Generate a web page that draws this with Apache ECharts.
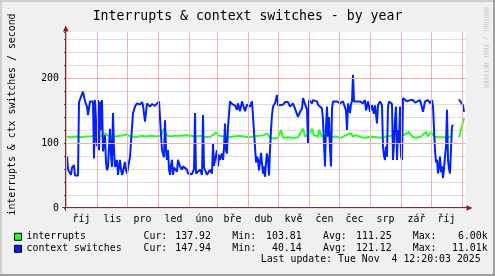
<!DOCTYPE html>
<html>
<head>
<meta charset="utf-8">
<script src="https://cdn.jsdelivr.net/npm/echarts@6/dist/echarts.min.js"></script>
<style>
html,body{margin:0;padding:0;background:#f0f0f0;}
#c{width:495px;height:276px;}
</style>
</head>
<body>
<div id="c"></div>
<script>
// ---- data ----
const titleText = 'Interrupts & context switches - by year';
const yAxisName = 'interrupts & ctx switches / second';
const monthLabels = ['říj','lis','pro','led','úno','bře','dub','kvě','čen','čec','srp','zář','říj'];
const monthStarts = ['2024-10-01','2024-11-01','2024-12-01','2025-01-01','2025-02-01','2025-03-01','2025-04-01','2025-05-01','2025-06-01','2025-07-01','2025-08-01','2025-09-01','2025-10-01','2025-11-01'];
const yTickLabels = [0, 100, 200];

// [day offset from graph start (Sep 30 2024), value]; null = no data
const contextSwitches = [
  [0,63],[1,79],[2,60],[3,56],[5,51],[6,62],[8,66],[9,50],[10,48],[12,50],
  [13,163],[15,166],[17,179],[19,164],[21,156],[22,143],[24,164],[26,167],[27,164],[28,76],
  [29,166],[30,110],[31,95],[32,166],[33,89],[34,164],[35,120],[36,166],[37,87],[38,100],
  [39,112],[40,70],[41,58],[42,63],[43,95],[44,122],[45,80],[46,63],[47,146],[48,90],
  [49,63],[51,74],[52,51],[54,74],[55,60],[56,51],[57,56],[59,71],[60,58],[61,53],
  [62,56],[64,79],[66,81],
  [67,146],[69,156],[71,161],[72,158],[74,159],[76,163],[77,158],[79,133],[81,161],[83,163],
  [84,156],[86,160],[87,163],[89,157],[91,158],[93,164],[94,161],
  [96,89],[97,92],[98,78],[99,135],[100,90],[101,74],[102,89],[103,60],[104,51],[105,66],
  [106,74],[107,51],[108,62],[109,59],[111,56],[112,74],[114,64],[116,59],[117,64],[119,62],
  [121,59],[122,53],[124,56],[126,52],[127,51],[128,60],[129,146],[130,53],[132,56],[134,59],
  [136,51],[137,143],[138,62],[139,59],[141,51],[142,48],[144,59],[146,53],[147,99],[148,65],
  [149,74],[151,89],[152,64],[153,82],[154,74],[156,84],[157,74],[158,92],[159,130],[160,88],
  [161,84],[162,125],
  [164,164],[166,160],[167,161],[169,158],[171,151],[172,161],[174,149],[176,164],[177,161],[179,149],
  [181,159],[182,161],[184,156],[186,164],[187,166],
  [189,94],[190,70],[191,79],[192,74],[193,58],[194,59],[195,85],[196,87],[197,53],[198,64],
  [199,48],[200,70],[201,84],[202,74],[203,50],[204,89],[205,120],
  [206,143],[207,156],[209,161],[211,174],[212,158],[214,161],[217,159],[219,163],[221,161],[222,163],
  [224,156],[226,159],[227,161],[229,153],[231,151],[232,140],[234,148],[236,153],[237,169],[239,166],
  [241,151],[242,99],[243,166],[246,161],[247,166],[249,163],[251,164],[252,159],[254,161],[256,153],
  [257,135],[258,100],[259,64],[260,125],[261,156],[262,110],[263,140],[264,90],[265,64],[266,153],
  [267,164],[269,162],[271,164],[274,161],[277,164],[279,166],[280,150],[281,120],[282,161],[284,146],
  [285,160],[286,164],[287,205],[288,164],[291,164],[294,164],[297,161],[299,166],[300,150],[301,156],
  [302,164],[304,148],[306,158],[307,161],[308,145],[309,158],[311,130],[312,158],[314,164],[316,158],
  [317,94],[318,80],[319,74],[320,95],[321,79],[322,156],[323,164],[325,166],[326,160],[327,74],
  [328,100],[329,135],[330,156],[331,74],[332,120],[333,100],[334,156],[335,80],[336,74],
  [337,169],[339,166],[341,164],[344,166],[347,166],[349,162],[351,164],[354,166],[356,164],[357,148],
  [359,164],[361,161],[362,166],[364,161],[366,166],[367,156],
  [369,89],[370,70],[371,74],[372,53],[373,65],[374,79],[375,55],[376,64],[377,46],[378,60],
  [379,79],[380,95],[381,151],[382,74],[383,60],[384,53],[385,90],[386,125],[387,128],
  [390,null],
  [393,167],[395,170],[397,158],[398,148]
];

const interrupts = [
  [0,110],[5,109],[10,110],[15,109],[20,110],[25,110],[30,111],[35,110],[39,115],[42,111],
  [48,110],[55,111],[60,113],[65,110],[70,109],[75,111],[80,110],[85,111],[90,110],[95,111],
  [98,122],[101,111],[105,110],[110,111],[115,111],[120,112],[125,111],[130,110],[135,111],[140,109],
  [145,110],[150,116],[153,111],[158,110],[163,109],[168,110],[173,111],[178,110],[183,109],[188,110],
  [193,111],[198,112],[201,115],[204,108],[208,107],[212,108],[215,120],[217,108],[222,109],[227,108],
  [232,109],[237,122],[239,110],[243,114],[246,122],[248,112],[252,110],[253,120],[256,110],[260,111],
  [265,109],[270,110],[275,108],[280,112],[285,115],[287,110],[290,112],[295,109],[300,108],[305,110],
  [310,109],[315,108],[320,110],[325,111],[330,112],[335,117],[338,112],[343,117],[346,110],[350,108],
  [355,110],[360,117],[362,110],[365,117],[368,110],[372,109],[377,109],[382,109],[386,110],[390,null],
  [393,109],[395,120],[398,138]
];

const legendNames = ['interrupts','context switches'];
const legendColors = ['#22ff22','#0022ff'];
const statCur = ['137.92','147.94'];
const statMin = ['103.81','40.14'];
const statAvg = ['111.25','121.12'];
const statMax = ['6.00k','11.01k'];
const lastUpdate = 'Last update: Tue Nov  4 12:20:03 2025';
const watermark = 'RRDTOOL / TOBI OETIKER';

// ---- build ----
const DAY = 86400000;
const START = Date.UTC(2024, 8, 30, 11, 20);
const END = START + 400 * DAY;
const toTs = d => START + d * DAY;
const monthTs = monthStarts.map(s => { const p = s.split('-'); return Date.UTC(+p[0], +p[1] - 1, +p[2]) - 3600000; });
const labelTs = monthLabels.map((m, i) => monthTs[i] + 15 * DAY);

const greenData = interrupts.map(p => [toTs(p[0]), p[1]]);
const blueData = contextSwitches.map(p => [toTs(p[0]), p[1]]);

const MONO = 'DejaVu Sans Mono';
const FS = 9.9;
const txt = (x, y, text, align, extra) => Object.assign({
  type: 'text', x: x, y: y, silent: true,
  style: { text: text, fill: '#000', font: FS + 'px "' + MONO + '"', align: align || 'left', verticalAlign: 'middle' }
}, extra || {});

const graphic = [
  { type: 'rect', shape: { x: 0, y: 0, width: 495, height: 2 }, style: { fill: '#cfcfcf' }, silent: true },
  { type: 'rect', shape: { x: 0, y: 0, width: 2, height: 276 }, style: { fill: '#cfcfcf' }, silent: true },
  { type: 'rect', shape: { x: 0, y: 274, width: 495, height: 2 }, style: { fill: '#9e9e9e' }, silent: true },
  { type: 'rect', shape: { x: 493, y: 0, width: 2, height: 276 }, style: { fill: '#9e9e9e' }, silent: true },
  { type: 'text', x: 247.5, y: 16.5, silent: true, style: { text: titleText, fill: '#000', font: '13.2px "' + MONO + '"', align: 'center', verticalAlign: 'middle' } },
  txt(12.5, 114.5, yAxisName, 'center', { rotation: Math.PI / 2 }),
  { type: 'text', x: 485.5, y: 47.5, rotation: -Math.PI / 2, silent: true, style: { text: watermark, fill: '#c4c4c4', font: '6.1px "' + MONO + '"', align: 'center', verticalAlign: 'middle' } },
  { type: 'polygon', shape: { points: [[466.5, 205.2], [472.5, 208], [466.5, 210.8]] }, style: { fill: '#8b1a1a' }, silent: true, z: 10 },
  { type: 'polygon', shape: { points: [[63, 31.5], [65.8, 25.5], [68.6, 31.5]] }, style: { fill: '#8b1a1a' }, silent: true, z: 10 },
  { type: 'line', shape: { x1: 62, y1: 207.5, x2: 467, y2: 207.5 }, style: { stroke: '#6a3a3a', lineWidth: 1 }, silent: true, z: 9 },
  { type: 'line', shape: { x1: 65.5, y1: 211, x2: 65.5, y2: 31 }, style: { stroke: '#6a3a3a', lineWidth: 1 }, silent: true, z: 9 },
  txt(480.7, 259.8, lastUpdate, 'right')
];
const rowY = [236.8, 248.8];
legendNames.forEach((n, i) => {
  graphic.push({ type: 'rect', shape: { x: 14.5, y: rowY[i] - 3.5, width: 7, height: 7 }, style: { fill: legendColors[i], stroke: '#000', lineWidth: 1 }, silent: true });
  graphic.push(txt(26.5, rowY[i], n, 'left'));
  graphic.push(txt(143.5, rowY[i], 'Cur:', 'left'));
  graphic.push(txt(211, rowY[i], statCur[i], 'right'));
  graphic.push(txt(232.3, rowY[i], 'Min:', 'left'));
  graphic.push(txt(301.7, rowY[i], statMin[i], 'right'));
  graphic.push(txt(323, rowY[i], 'Avg:', 'left'));
  graphic.push(txt(391.7, rowY[i], statAvg[i], 'right'));
  graphic.push(txt(412.7, rowY[i], 'Max:', 'left'));
  graphic.push(txt(487.7, rowY[i], statMax[i], 'right'));
});

const chart = echarts.init(document.getElementById('c'), null, { renderer: 'canvas' });
chart.setOption({
  animation: false,
  backgroundColor: '#f0f0f0',
  textStyle: { fontFamily: MONO },
  grid: { left: 66, right: 29, top: 32, bottom: 68, backgroundColor: '#ffffff', show: true, borderWidth: 0 },
  xAxis: {
    type: 'time', min: START, max: END,
    axisLine: { show: false }, axisTick: { show: false }, axisLabel: { show: false }, splitLine: { show: false }
  },
  yAxis: {
    type: 'value', min: 0, max: 176 / 0.65, interval: 20,
    axisLine: { show: false },
    axisTick: { show: true, length: 2, lineStyle: { color: '#6a3a3a' } },
    axisLabel: {
      margin: 7, color: '#000', fontFamily: MONO, fontSize: FS,
      formatter: v => (yTickLabels.indexOf(Math.round(v)) >= 0 && Math.abs(v - Math.round(v)) < 1e-6) ? String(Math.round(v)) : ''
    },
    splitLine: { show: true, showMaxLine: false, lineStyle: { color: '#dedede', width: 1 } }
  },
  graphic: graphic,
  series: [
    {
      type: 'line', data: [], silent: true, z: 1,
      markLine: {
        silent: true, symbol: 'none', animation: false, label: { show: false },
        lineStyle: { color: '#f2b0b0', width: 1, type: 'solid' },
        data: monthTs.map(t => ({ xAxis: t })).concat(yTickLabels.filter(v => v > 0).map(v => ({ yAxis: v })))
      }
    },
    {
      name: legendNames[0], type: 'line', data: greenData, z: 3, showSymbol: false, connectNulls: false,
      lineStyle: { color: legendColors[0], width: 2 }, itemStyle: { color: legendColors[0] }
    },
    {
      name: legendNames[1], type: 'line', data: blueData, z: 4, showSymbol: false, connectNulls: false,
      lineStyle: { color: legendColors[1], width: 2 }, itemStyle: { color: legendColors[1] }
    },
    {
      type: 'custom', silent: true, clip: false, z: 5,
      data: labelTs.map(t => [t, 0]),
      encode: { x: 0, y: 1 },
      renderItem: (params, api) => {
        const p = api.coord([api.value(0), 0]);
        return {
          type: 'text', x: p[0], y: p[1] + 11.5,
          style: { text: monthLabels[params.dataIndex], fill: '#000', font: FS + 'px "' + MONO + '"', align: 'center', verticalAlign: 'middle' }
        };
      }
    }
  ]
});
</script>
</body>
</html>
